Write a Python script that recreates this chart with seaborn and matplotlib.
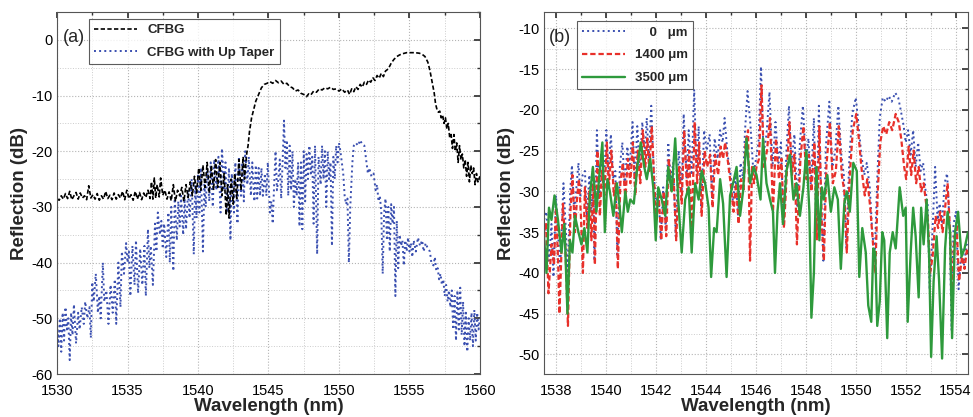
import numpy as np
import pandas as pd
import matplotlib
matplotlib.use("Agg")
import matplotlib.pyplot as plt
import seaborn as sns
from matplotlib.ticker import MultipleLocator

# ---- panel (a): CFBG and CFBG with up taper ----
cfbg_wl = [1530.0, 1530.15, 1530.3, 1530.45, 1530.6, 1530.75, 1530.9, 1531.05, 1531.2, 1531.35,
           1531.5, 1531.65, 1531.8, 1531.95, 1532.1, 1532.25, 1532.4, 1532.55, 1532.7, 1532.85,
           1533.0, 1533.15, 1533.3, 1533.45, 1533.6, 1533.75, 1533.9, 1534.05, 1534.2, 1534.35,
           1534.5, 1534.65, 1534.8, 1534.95, 1535.1, 1535.25, 1535.4, 1535.55, 1535.7, 1535.85,
           1536.0, 1536.15, 1536.3, 1536.45, 1536.6, 1536.7, 1536.8, 1536.9, 1537.0, 1537.1,
           1537.25, 1537.35, 1537.5, 1537.65, 1537.8, 1537.95, 1538.1, 1538.25, 1538.4, 1538.55,
           1538.7, 1538.85, 1539.0, 1539.15, 1539.3, 1539.45, 1539.6, 1539.75, 1539.9, 1540.05,
           1540.2, 1540.35, 1540.5, 1540.65, 1540.8, 1540.95, 1541.1, 1541.25, 1541.4, 1541.55,
           1541.7, 1541.85, 1542.0, 1542.1, 1542.2, 1542.35, 1542.5, 1542.6, 1542.75, 1542.9,
           1543.05, 1543.2, 1543.3, 1543.45, 1543.55, 1543.65, 1543.8, 1543.95, 1544.1, 1544.3,
           1544.5, 1544.7, 1544.9, 1545.1, 1545.3, 1545.5, 1545.7, 1545.9, 1546.1, 1546.3,
           1546.5, 1546.7, 1546.9, 1547.1, 1547.3, 1547.5, 1547.7, 1547.85, 1548.0, 1548.2,
           1548.4, 1548.6, 1548.8, 1549.0, 1549.2, 1549.4, 1549.6, 1549.8, 1550.0, 1550.2,
           1550.4, 1550.6, 1550.75, 1550.9, 1551.05, 1551.2, 1551.35, 1551.5, 1551.65, 1551.8,
           1551.95, 1552.1, 1552.25, 1552.4, 1552.55, 1552.7, 1552.85, 1553.0, 1553.15, 1553.3,
           1553.5, 1553.7, 1553.9, 1554.1, 1554.3, 1554.5, 1554.8, 1555.1, 1555.4, 1555.7,
           1555.9, 1556.1, 1556.3, 1556.45, 1556.6, 1556.75, 1556.85, 1556.95, 1557.05, 1557.15,
           1557.25, 1557.35, 1557.45, 1557.55, 1557.65, 1557.75, 1557.85, 1557.95, 1558.05, 1558.15,
           1558.25, 1558.35, 1558.45, 1558.55, 1558.65, 1558.75, 1558.85, 1558.95, 1559.05, 1559.15,
           1559.25, 1559.35, 1559.45, 1559.55, 1559.65, 1559.75, 1559.85, 1560.0]
cfbg_db = [-28.5, -28.8, -28.0, -28.6, -27.6, -28.5, -27.2, -28.7, -28.0, -27.4,
           -28.6, -27.5, -28.4, -28.0, -28.7, -26.2, -28.4, -27.8, -28.6, -27.6,
           -28.8, -28.0, -28.6, -27.2, -28.5, -27.9, -28.7, -27.5, -28.6, -27.8,
           -28.4, -27.2, -28.7, -27.0, -28.5, -27.8, -28.8, -27.2, -28.6, -27.4,
           -28.7, -27.5, -28.3, -27.0, -28.5, -25.5, -28.6, -24.8, -28.4, -26.0,
           -28.2, -24.8, -27.9, -27.0, -28.6, -27.3, -28.9, -26.0, -29.0, -27.0,
           -28.0, -26.5, -29.0, -26.0, -28.3, -25.5, -28.0, -24.5, -27.5, -23.0,
           -27.0, -22.5, -26.5, -22.0, -27.5, -22.5, -27.0, -21.5, -26.5, -22.0,
           -28.0, -24.0, -31.5, -26.0, -32.0, -25.0, -29.5, -24.0, -28.5, -21.5,
           -27.0, -21.0, -25.0, -20.5, -19.0, -16.5, -14.0, -12.5, -11.0, -9.8,
           -8.6, -8.0, -7.8, -7.5, -7.8, -7.3, -7.7, -7.4, -8.0, -7.8,
           -8.4, -8.6, -9.2, -9.0, -9.6, -9.8, -10.2, -9.7, -9.9, -9.2,
           -9.4, -8.8, -9.0, -8.6, -8.8, -8.5, -8.9, -8.8, -9.2, -8.8,
           -9.4, -9.0, -9.8, -8.8, -9.3, -8.4, -8.9, -8.0, -8.5, -7.6,
           -8.0, -7.2, -7.6, -6.8, -7.3, -6.4, -6.9, -6.0, -6.6, -5.6,
           -5.2, -4.2, -3.5, -3.0, -2.7, -2.5, -2.3, -2.3, -2.3, -2.4,
           -2.6, -3.0, -4.0, -5.5, -7.5, -9.5, -11.5, -12.5, -13.0, -12.8,
           -14.0, -13.5, -15.0, -14.0, -16.0, -15.0, -17.5, -17.0, -19.5, -17.0,
           -20.0, -18.5, -22.0, -19.0, -21.5, -20.5, -23.0, -21.5, -24.5, -22.0,
           -25.5, -22.5, -24.0, -23.0, -26.0, -24.0, -25.5, -24.5]

taper_wl = [1530.0, 1530.1, 1530.2, 1530.3, 1530.4, 1530.5, 1530.6, 1530.7, 1530.8, 1530.9,
            1531.0, 1531.1, 1531.2, 1531.35, 1531.5, 1531.6, 1531.75, 1531.9, 1532.0, 1532.15,
            1532.3, 1532.4, 1532.5, 1532.6, 1532.75, 1532.9, 1533.0, 1533.1, 1533.25, 1533.35,
            1533.5, 1533.65, 1533.8, 1533.95, 1534.1, 1534.2, 1534.35, 1534.5, 1534.6, 1534.75,
            1534.9, 1535.0, 1535.1, 1535.2, 1535.35, 1535.5, 1535.6, 1535.75, 1535.9, 1536.05,
            1536.2, 1536.3, 1536.45, 1536.55, 1536.65, 1536.8, 1536.95, 1537.05, 1537.15, 1537.3,
            1537.4, 1537.5, 1537.6, 1537.75, 1537.9, 1538.0, 1538.1, 1538.25, 1538.35, 1538.5,
            1538.6, 1538.7, 1538.8, 1538.95, 1539.05, 1539.15, 1539.3, 1539.4, 1539.55, 1539.7,
            1539.8, 1539.9, 1540.0, 1540.1, 1540.2, 1540.35, 1540.45, 1540.55, 1540.65, 1540.8,
            1540.9, 1541.05, 1541.15, 1541.3, 1541.45, 1541.6, 1541.7, 1541.85, 1541.95, 1542.05,
            1542.2, 1542.3, 1542.4, 1542.55, 1542.65, 1542.8, 1542.9, 1543.05, 1543.15, 1543.25,
            1543.35, 1543.5, 1543.6, 1543.75, 1543.85, 1544.0, 1544.1, 1544.2, 1544.3, 1544.4,
            1544.5, 1544.6, 1544.75, 1544.85, 1544.95, 1545.1, 1545.2, 1545.3, 1545.4, 1545.5,
            1545.6, 1545.7, 1545.8, 1545.9, 1546.0, 1546.1, 1546.2, 1546.3, 1546.4, 1546.5,
            1546.6, 1546.7, 1546.8, 1546.9, 1547.0, 1547.1, 1547.2, 1547.3, 1547.4, 1547.5,
            1547.6, 1547.7, 1547.8, 1547.9, 1548.0, 1548.1, 1548.2, 1548.3, 1548.45, 1548.55,
            1548.7, 1548.8, 1548.9, 1549.0, 1549.1, 1549.2, 1549.3, 1549.4, 1549.5, 1549.6,
            1549.7, 1549.8, 1549.9, 1550.0, 1550.1, 1550.3, 1550.4, 1550.5, 1550.6, 1550.7,
            1550.8, 1550.95, 1551.05, 1551.2, 1551.35, 1551.5, 1551.65, 1551.8, 1551.95, 1552.05,
            1552.15, 1552.3, 1552.45, 1552.6, 1552.7, 1552.8, 1552.9, 1553.0, 1553.1, 1553.2,
            1553.3, 1553.4, 1553.5, 1553.6, 1553.7, 1553.8, 1553.9, 1554.0, 1554.1, 1554.2,
            1554.3, 1554.4, 1554.5, 1554.6, 1554.7, 1554.8, 1554.9, 1555.0, 1555.1, 1555.2,
            1555.3, 1555.45, 1555.6, 1555.75, 1555.9, 1556.0, 1556.15, 1556.3, 1556.45, 1556.55,
            1556.7, 1556.8, 1556.9, 1557.0, 1557.1, 1557.2, 1557.3, 1557.4, 1557.5, 1557.6,
            1557.7, 1557.8, 1557.9, 1558.0, 1558.1, 1558.2, 1558.3, 1558.4, 1558.5, 1558.6,
            1558.7, 1558.8, 1558.9, 1559.0, 1559.1, 1559.2, 1559.3, 1559.4, 1559.5, 1559.6,
            1559.7, 1559.8, 1559.9, 1560.0]
taper_db = [-51, -55, -50, -56, -49, -54, -48, -52, -50, -57.5,
            -49, -53, -47.5, -54.5, -49, -52, -48, -51, -47, -50,
            -48, -53.5, -43.5, -47, -42, -49, -46, -50, -40, -47,
            -45, -51, -44, -49, -43, -51, -40, -48, -38, -42,
            -36.5, -40, -38, -46, -37, -44, -36, -45.5, -37.5, -44,
            -37, -46, -34, -41, -37, -44, -33, -38, -31, -35,
            -32.5, -37.5, -33, -39, -31, -40, -30, -41.5, -28.5, -36,
            -29, -33.5, -28, -35, -28.5, -34, -27, -32, -25, -38.5,
            -26, -32, -24, -31, -23, -38, -26, -30, -23, -29,
            -22, -30, -21.5, -27, -21, -31, -19.5, -27, -22, -31,
            -23, -36, -24, -31, -22, -33, -21, -28, -22, -29,
            -20, -26, -21, -28, -22, -29, -22.5, -28.5, -23, -28,
            -23, -28, -24, -28, -22, -31, -29, -33, -26, -20,
            -27, -25, -21.5, -28.5, -22, -14.5, -23, -18, -28, -19,
            -27, -20, -30, -25, -28, -22, -33.5, -22, -34, -20,
            -29, -20.5, -25, -19, -24, -21, -33, -19, -38.5, -21,
            -26, -19, -25, -20, -30, -20, -25, -22, -37, -21,
            -25, -19, -22, -18.5, -20, -24, -28, -29.5, -28.5, -40,
            -30, -22, -19, -18.5, -19, -18, -18.8, -19, -22, -24,
            -23, -24.5, -24, -27, -26, -29, -28, -31, -42, -31,
            -28.5, -36, -30, -38, -29.5, -33, -30, -46, -32.5, -41,
            -35, -37, -36, -40.5, -36, -38, -35.5, -38, -36.5, -39,
            -36, -38, -35.5, -37, -36, -38, -36.5, -37.5, -38, -40,
            -40.5, -39, -41.5, -41, -43, -42, -44, -43, -46, -44,
            -47, -45, -48, -45, -52, -46, -54, -45, -52, -44.5,
            -53, -47, -55, -49, -56, -50, -54, -49, -55, -48.5,
            -54, -49, -52, -50]

# ---- panel (b): taper length ----
wl_0um = [1537.50, 1537.60, 1537.70, 1537.80, 1537.88, 1537.98, 1538.08, 1538.15, 1538.28, 1538.38,
          1538.44, 1538.55, 1538.62, 1538.72, 1538.80, 1538.88, 1538.96, 1539.05, 1539.14, 1539.22,
          1539.32, 1539.40, 1539.46, 1539.52, 1539.62, 1539.72, 1539.80, 1539.90, 1540.00, 1540.08,
          1540.18, 1540.28, 1540.36, 1540.44, 1540.54, 1540.64, 1540.74, 1540.84, 1540.94, 1541.05,
          1541.14, 1541.24, 1541.34, 1541.44, 1541.54, 1541.62, 1541.70, 1541.80, 1541.90, 1542.00,
          1542.08, 1542.18, 1542.28, 1542.38, 1542.48, 1542.58, 1542.68, 1542.78, 1542.90, 1543.02,
          1543.10, 1543.22, 1543.30, 1543.42, 1543.52, 1543.62, 1543.70, 1543.80, 1543.92, 1544.02,
          1544.14, 1544.24, 1544.34, 1544.46, 1544.56, 1544.66, 1544.74, 1544.86, 1544.98, 1545.08,
          1545.18, 1545.28, 1545.38, 1545.48, 1545.56, 1545.66, 1545.78, 1545.90, 1546.00, 1546.10,
          1546.20, 1546.30, 1546.42, 1546.54, 1546.66, 1546.78, 1546.90, 1547.00, 1547.10, 1547.22,
          1547.32, 1547.42, 1547.54, 1547.66, 1547.76, 1547.88, 1548.00, 1548.10, 1548.20, 1548.32,
          1548.42, 1548.52, 1548.62, 1548.70, 1548.80, 1548.94, 1549.06, 1549.18, 1549.30, 1549.42,
          1549.52, 1549.62, 1549.74, 1549.86, 1550.00, 1550.10, 1550.22, 1550.34, 1550.44, 1550.56,
          1550.66, 1550.76, 1550.86, 1550.96, 1551.08, 1551.20, 1551.32, 1551.44, 1551.58, 1551.70,
          1551.80, 1551.92, 1552.00, 1552.10, 1552.20, 1552.30, 1552.40, 1552.50, 1552.60, 1552.70,
          1552.80, 1552.88, 1552.96, 1553.06, 1553.18, 1553.28, 1553.36, 1553.46, 1553.56, 1553.66,
          1553.76, 1553.84, 1553.92, 1554.02, 1554.12, 1554.24, 1554.34, 1554.44, 1554.50]
db_0um = [-33.5, -32.5, -38.5, -34.0, -40.5, -30.5, -36.0, -39.5, -29.0, -35.0,
          -41.0, -30.0, -26.8, -33.0, -29.5, -26.5, -30.5, -28.0, -27.5, -33.0,
          -28.0, -32.5, -27.0, -38.5, -22.5, -31.0, -25.5, -29.0, -22.5, -28.0,
          -23.0, -28.5, -27.5, -38.0, -27.0, -24.0, -29.5, -24.5, -27.0, -21.5,
          -29.0, -22.0, -27.5, -21.5, -25.5, -21.0, -26.0, -19.5, -27.5, -32.5,
          -29.5, -36.0, -29.5, -34.5, -24.0, -28.5, -26.5, -35.5, -25.0, -30.0,
          -20.5, -28.5, -22.5, -28.0, -17.5, -27.5, -22.0, -32.0, -22.5, -25.0,
          -23.0, -31.0, -23.5, -26.0, -22.5, -24.0, -21.0, -25.5, -28.0, -31.5,
          -28.0, -33.0, -26.5, -28.5, -22.5, -17.7, -22.0, -28.0, -26.0, -24.0,
          -14.7, -25.5, -23.0, -17.8, -27.0, -21.5, -26.5, -24.0, -34.0, -25.0,
          -19.5, -26.5, -23.0, -32.0, -24.0, -19.5, -26.5, -23.5, -29.5, -21.0,
          -35.0, -19.5, -33.0, -38.5, -24.5, -19.0, -27.0, -25.0, -19.5, -25.5,
          -28.0, -37.0, -26.0, -20.5, -18.5, -21.5, -25.5, -28.0, -26.5, -29.5,
          -35.0, -38.0, -28.5, -21.0, -18.5, -19.0, -18.3, -19.0, -17.9, -18.5,
          -20.0, -22.0, -24.0, -22.5, -25.5, -22.5, -27.0, -24.0, -27.5, -26.5,
          -30.0, -31.5, -42.0, -36.0, -27.0, -33.5, -31.5, -34.0, -29.0, -27.8,
          -34.0, -47.0, -34.0, -32.5, -42.0, -37.0, -39.0, -36.5, -37.0]

wl_1400um = [1537.50, 1537.58, 1537.68, 1537.80, 1537.90, 1537.98, 1538.06, 1538.12, 1538.26, 1538.36,
             1538.46, 1538.56, 1538.64, 1538.74, 1538.82, 1538.90, 1538.98, 1539.06, 1539.14, 1539.24,
             1539.32, 1539.40, 1539.48, 1539.54, 1539.64, 1539.74, 1539.82, 1539.92, 1540.02, 1540.10,
             1540.20, 1540.30, 1540.38, 1540.46, 1540.56, 1540.66, 1540.76, 1540.86, 1540.96, 1541.06,
             1541.16, 1541.26, 1541.36, 1541.46, 1541.56, 1541.64, 1541.72, 1541.82, 1541.92, 1542.00,
             1542.10, 1542.20, 1542.30, 1542.40, 1542.50, 1542.60, 1542.70, 1542.80, 1542.92, 1543.02,
             1543.12, 1543.24, 1543.32, 1543.42, 1543.54, 1543.64, 1543.72, 1543.82, 1543.94, 1544.04,
             1544.16, 1544.26, 1544.36, 1544.48, 1544.58, 1544.68, 1544.76, 1544.88, 1545.00, 1545.10,
             1545.20, 1545.30, 1545.40, 1545.50, 1545.58, 1545.68, 1545.76, 1545.84, 1545.92, 1546.02,
             1546.12, 1546.22, 1546.32, 1546.44, 1546.56, 1546.68, 1546.80, 1546.92, 1547.02, 1547.12,
             1547.24, 1547.34, 1547.44, 1547.54, 1547.64, 1547.78, 1547.90, 1548.02, 1548.12, 1548.22,
             1548.34, 1548.44, 1548.54, 1548.64, 1548.72, 1548.82, 1548.96, 1549.08, 1549.20, 1549.32,
             1549.44, 1549.54, 1549.64, 1549.76, 1549.88, 1550.02, 1550.12, 1550.24, 1550.36, 1550.46,
             1550.58, 1550.68, 1550.78, 1550.88, 1550.98, 1551.10, 1551.22, 1551.34, 1551.46, 1551.60,
             1551.72, 1551.82, 1551.94, 1552.02, 1552.12, 1552.22, 1552.32, 1552.42, 1552.52, 1552.62,
             1552.72, 1552.82, 1552.90, 1552.98, 1553.08, 1553.20, 1553.30, 1553.38, 1553.48, 1553.58,
             1553.68, 1553.78, 1553.86, 1553.94, 1554.04, 1554.14, 1554.26, 1554.36, 1554.46, 1554.50]
db_1400um = [-35.0, -34.0, -42.5, -36.5, -39.0, -32.0, -38.0, -45.0, -31.5, -37.0,
             -46.5, -32.5, -28.0, -35.0, -31.0, -28.5, -33.0, -40.0, -29.5, -34.5,
             -30.0, -36.0, -29.0, -39.0, -25.0, -33.0, -27.5, -30.5, -24.0, -29.5,
             -25.0, -30.5, -29.0, -39.5, -29.0, -26.5, -31.0, -26.0, -29.0, -24.0,
             -30.5, -25.0, -29.0, -22.5, -27.0, -23.5, -27.5, -22.0, -29.0, -33.5,
             -30.5, -36.0, -30.0, -35.5, -26.0, -30.0, -28.5, -36.0, -27.0, -31.5,
             -22.5, -30.0, -25.0, -35.5, -21.5, -29.0, -24.0, -33.0, -25.0, -27.0,
             -25.5, -32.0, -25.5, -28.0, -24.5, -26.0, -24.0, -26.5, -29.5, -32.5,
             -29.0, -34.0, -28.5, -30.0, -24.0, -22.5, -38.5, -27.0, -29.0, -27.0,
             -26.0, -17.0, -27.0, -25.0, -21.0, -32.5, -23.5, -28.5, -26.0, -34.5,
             -27.5, -21.5, -28.0, -25.5, -36.5, -26.0, -22.0, -28.5, -25.5, -30.0,
             -24.0, -36.0, -22.0, -34.0, -38.5, -27.0, -21.5, -29.0, -27.5, -22.0,
             -28.0, -30.0, -37.5, -28.0, -22.5, -20.5, -23.5, -27.5, -30.5, -28.5,
             -32.0, -36.0, -40.0, -30.0, -24.0, -22.0, -23.0, -21.5, -22.5, -20.5,
             -21.5, -23.5, -27.0, -28.5, -24.5, -28.0, -25.0, -29.0, -27.0, -30.0,
             -29.0, -31.5, -34.0, -40.0, -38.0, -33.0, -34.5, -32.5, -35.0, -32.0,
             -29.0, -35.0, -44.0, -36.0, -34.0, -41.0, -38.0, -39.5, -37.0, -37.5]

wl_3500um = [1537.50, 1537.60, 1537.70, 1537.80, 1537.92, 1538.06, 1538.20, 1538.32, 1538.44, 1538.54,
             1538.64, 1538.74, 1538.88, 1539.00, 1539.12, 1539.24, 1539.34, 1539.46, 1539.60, 1539.72,
             1539.84, 1539.94, 1540.04, 1540.14, 1540.28, 1540.42, 1540.52, 1540.62, 1540.76, 1540.86,
             1540.96, 1541.10, 1541.24, 1541.38, 1541.52, 1541.62, 1541.76, 1541.88, 1541.98, 1542.08,
             1542.22, 1542.36, 1542.48, 1542.62, 1542.76, 1542.88, 1543.02, 1543.16, 1543.30, 1543.42,
             1543.56, 1543.70, 1543.82, 1543.96, 1544.10, 1544.20, 1544.32, 1544.42, 1544.56, 1544.68,
             1544.82, 1544.96, 1545.08, 1545.22, 1545.36, 1545.48, 1545.62, 1545.76, 1545.90, 1546.02,
             1546.18, 1546.28, 1546.42, 1546.56, 1546.68, 1546.76, 1546.86, 1546.96, 1547.08, 1547.22,
             1547.36, 1547.50, 1547.62, 1547.76, 1547.90, 1548.02, 1548.14, 1548.22, 1548.32, 1548.42,
             1548.54, 1548.64, 1548.72, 1548.86, 1549.00, 1549.14, 1549.28, 1549.40, 1549.54, 1549.64,
             1549.76, 1549.90, 1550.04, 1550.14, 1550.26, 1550.40, 1550.50, 1550.62, 1550.70, 1550.78,
             1550.86, 1550.96, 1551.06, 1551.14, 1551.26, 1551.36, 1551.48, 1551.60, 1551.76, 1551.90,
             1552.00, 1552.08, 1552.20, 1552.30, 1552.40, 1552.52, 1552.62, 1552.72, 1552.84, 1552.94,
             1553.02, 1553.12, 1553.24, 1553.34, 1553.46, 1553.58, 1553.68, 1553.78, 1553.86, 1553.98,
             1554.10, 1554.24, 1554.36, 1554.50]
db_3500um = [-35.5, -40.0, -32.0, -33.5, -30.5, -33.5, -37.5, -34.0, -45.0, -36.0,
             -37.5, -33.0, -35.0, -36.5, -34.5, -37.5, -30.5, -27.0, -32.5, -28.0,
             -24.0, -35.0, -28.5, -30.0, -33.0, -29.0, -31.5, -35.0, -30.0, -32.5,
             -31.0, -31.5, -27.0, -24.0, -27.0, -28.5, -26.0, -29.5, -36.0, -29.5,
             -31.0, -33.0, -27.0, -30.0, -23.5, -31.0, -37.5, -31.0, -29.5, -37.5,
             -29.0, -31.0, -27.5, -29.0, -32.0, -40.5, -34.5, -35.0, -28.5, -31.5,
             -40.5, -30.5, -29.0, -27.0, -33.0, -30.0, -23.5, -29.0, -27.0, -28.0,
             -31.0, -23.5, -29.0, -31.0, -32.5, -40.0, -32.5, -29.0, -34.0, -27.5,
             -25.5, -31.0, -29.0, -33.0, -29.5, -25.0, -32.5, -45.5, -40.0, -27.0,
             -36.0, -29.5, -31.0, -28.0, -32.5, -29.5, -31.0, -39.5, -31.5, -30.0,
             -32.5, -26.5, -27.5, -40.5, -34.5, -37.5, -44.0, -46.0, -37.0, -37.5,
             -46.5, -43.5, -35.0, -36.0, -48.0, -37.5, -35.0, -37.0, -29.5, -33.0,
             -32.0, -46.0, -37.5, -32.0, -35.5, -43.0, -32.0, -36.5, -31.0, -38.0,
             -50.3, -41.0, -35.5, -41.0, -50.5, -37.0, -32.5, -35.0, -48.0, -35.0,
             -32.5, -38.0, -37.0, -35.0]

sns.set_theme(style="white")
plt.rcParams['font.family'] = ['Liberation Sans', 'DejaVu Sans']
plt.rcParams['axes.unicode_minus'] = False


def style_axes(ax, xmaj, xmin, ymaj, ymin):
    ax.xaxis.set_major_locator(MultipleLocator(xmaj))
    ax.xaxis.set_minor_locator(MultipleLocator(xmin))
    ax.yaxis.set_major_locator(MultipleLocator(ymaj))
    ax.yaxis.set_minor_locator(MultipleLocator(ymin))
    ax.grid(which='major', color='#b4b4b4', linestyle=':', linewidth=0.8)
    ax.grid(which='minor', color='#cccccc', linestyle=':', linewidth=0.7)
    ax.tick_params(which='both', direction='in', top=True, right=True,
                   labelsize=10.5, colors='#333333', labelcolor='black')
    ax.tick_params(which='major', length=4)
    ax.tick_params(which='minor', length=2)
    ax.tick_params(axis='x', which='major', pad=7)
    for sp in ax.spines.values():
        sp.set_color('#555555')
        sp.set_linewidth(0.8)
    ax.set_xlabel('Wavelength (nm)', fontsize=13.5, fontweight='bold', labelpad=0)
    ax.set_ylabel('Reflection (dB)', fontsize=13.5, fontweight='bold', labelpad=2)


fig = plt.figure(figsize=(9.73, 4.17), dpi=100)
ax_a = fig.add_axes([0.0586, 0.1031, 0.4347, 0.8681])
ax_b = fig.add_axes([0.5591, 0.1031, 0.4358, 0.8681])

# (a)
sns.lineplot(x=taper_wl, y=taper_db, ax=ax_a, color='#3a4fb0', linestyle=':',
             linewidth=1.4, estimator=None, label='CFBG with Up Taper')
sns.lineplot(x=cfbg_wl, y=cfbg_db, ax=ax_a, color='black', linewidth=1.2,
             estimator=None, label='CFBG')
ax_a.lines[-1].set_dashes((2.6, 1.4))
ax_a.set_xlim(1530, 1560)
ax_a.set_ylim(-60, 5)
style_axes(ax_a, 5, 2.5, 10, 5)
h, l = ax_a.get_legend_handles_labels()
leg = ax_a.legend(h[::-1], l[::-1], loc='upper left', bbox_to_anchor=(0.0757, 0.981),
                  borderaxespad=0, frameon=True, fancybox=False, edgecolor='#333333',
                  handlelength=3.2, labelspacing=0.75, prop={'weight': 'bold', 'size': 9.5})
leg.get_frame().set_linewidth(0.8)
ax_a.text(0.013, 0.93, '(a)', transform=ax_a.transAxes, fontsize=13, va='center')

# (b)
sns.lineplot(x=wl_0um, y=db_0um, ax=ax_b, color='#3a4fb0', linestyle=':',
             linewidth=1.4, estimator=None, label='    0   \u03bcm')
sns.lineplot(x=wl_1400um, y=db_1400um, ax=ax_b, color='#e8302a',
             linewidth=1.6, estimator=None, label='1400 \u03bcm')
ax_b.lines[-1].set_dashes((2.4, 1.3))
sns.lineplot(x=wl_3500um, y=db_3500um, ax=ax_b, color='#2e9a3c', linestyle='-',
             linewidth=1.7, estimator=None, label='3500 \u03bcm')
ax_b.set_xlim(1537.5, 1554.5)
ax_b.set_ylim(-52.4, -8)
style_axes(ax_b, 2, 1, 5, 2.5)
leg = ax_b.legend(loc='upper left', bbox_to_anchor=(0.078, 0.975), borderaxespad=0,
                  frameon=True, fancybox=False, edgecolor='#333333',
                  handlelength=3.2, labelspacing=0.8, prop={'weight': 'bold', 'size': 9.5})
leg.get_frame().set_linewidth(0.8)
ax_b.text(0.012, 0.93, '(b)', transform=ax_b.transAxes, fontsize=13, va='center')

fig.savefig('out.png', dpi=100)
